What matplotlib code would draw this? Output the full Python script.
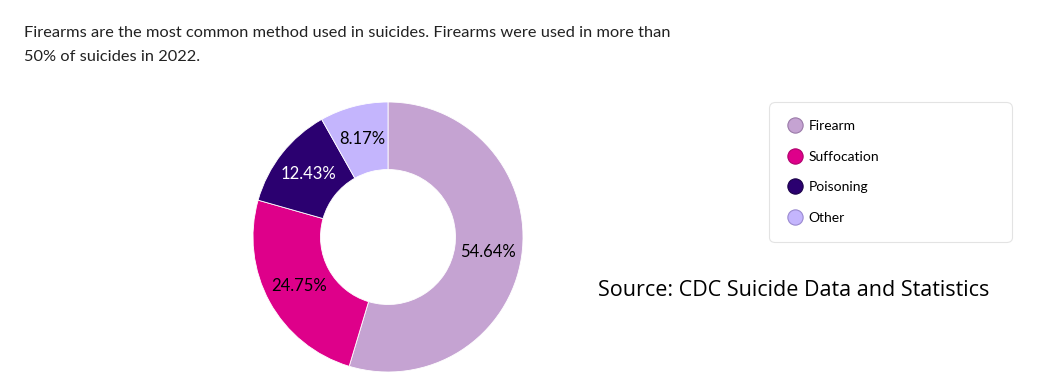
import matplotlib.pyplot as plt
from matplotlib.lines import Line2D

plt.rcParams['font.family'] = ['Lato', 'DejaVu Sans']

# data
methods = ["Firearm", "Suffocation", "Poisoning", "Other"]
shares = [54.64, 24.75, 12.43, 8.17]
colors = ["#c5a3d2", "#de008a", "#2b0070", "#c4b5fd"]
edge_colors = ["#9a7aa8", "#b0006c", "#1a0048", "#9a8ad0"]
label_colors = ["black", "black", "white", "black"]

title_lines = ["Firearms are the most common method used in suicides. Firearms were used in more than",
               "50% of suicides in 2022."]
source = "Source: CDC Suicide Data and Statistics"

W, H = 1059, 388
fig = plt.figure(figsize=(W / 100, H / 100), dpi=100)

# pie axes: center (388, 237), radius 135 px
cx, cy, r = 388, 237, 135
ax = fig.add_axes([(cx - r) / W, (H - cy - r) / H, 2 * r / W, 2 * r / H])
total = sum(shares)
wedges, texts, autotexts = ax.pie(
    shares, colors=colors, startangle=90, counterclock=False,
    wedgeprops=dict(width=0.5, edgecolor="white", linewidth=0.6),
    autopct=lambda p: f"{p * total / 100:.2f}%", pctdistance=0.75,
    textprops=dict(fontsize=12),
)
for t, c in zip(autotexts, label_colors):
    t.set_color(c)
ax.set_xlim(-1, 1)
ax.set_ylim(-1, 1)

for i, line in enumerate(title_lines):
    fig.text(24 / W, 1 - (33 + 24 * i) / H, line, fontsize=11.8, va="center",
             ha="left", color="#222222")

fig.text(598 / W, 1 - 290 / H, source, fontsize=15.5, va="center", ha="left",
         family=["Open Sans", "DejaVu Sans"], color="black")

handles = [Line2D([], [], marker="o", linestyle="none", markersize=11,
                  markerfacecolor=c, markeredgecolor=e, markeredgewidth=0.8)
           for c, e in zip(colors, edge_colors)]
leg = fig.legend(handles, methods, loc="upper left",
                 bbox_to_anchor=(769 / W, 1 - 242 / H, 243 / W, 140 / H),
                 mode="expand", fontsize=10, frameon=True, fancybox=True,
                 labelspacing=1.33, handletextpad=0.4, borderpad=1.32,
                 handlelength=1.15, borderaxespad=0)
leg.get_frame().set_edgecolor("#dddddd")
leg.get_frame().set_linewidth(0.8)
leg.get_frame().set_boxstyle("round,pad=0,rounding_size=0.4")

fig.savefig("out.png", dpi=100)
